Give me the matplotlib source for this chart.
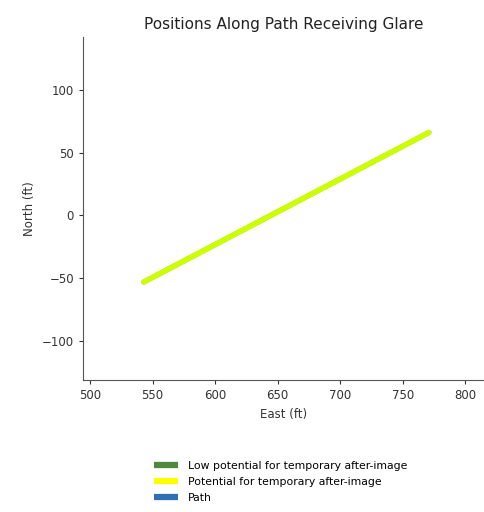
import matplotlib
matplotlib.use("Agg")
import matplotlib.pyplot as plt
from matplotlib.lines import Line2D

path_east = [543, 771]
path_north = [-53, 66]
glare_east = [543, 771]
glare_north = [-53, 66]

legend_labels = ["Low potential for temporary after-image",
                 "Potential for temporary after-image",
                 "Path"]
legend_colors = ["#4f8a3c", "#ffff00", "#2f6db5"]

fig = plt.figure(figsize=(4.84, 5.12), dpi=100)
ax = fig.add_axes([0.1715, 0.2578, 0.8285, 0.67])

ax.plot(path_east, path_north, color="#2f6db5", lw=3.5, solid_capstyle="round")
ax.plot(glare_east, glare_north, color="#ccff00", lw=4, solid_capstyle="round")

ax.set_xlim(494.4, 815)
ax.set_ylim(-131, 142)
ax.set_xticks([500, 550, 600, 650, 700, 750, 800])
ax.set_yticks([-100, -50, 0, 50, 100])
ax.spines["top"].set_visible(False)
ax.spines["right"].set_visible(False)
for s in ("left", "bottom"):
    ax.spines[s].set_color("#555555")
    ax.spines[s].set_linewidth(0.8)
ax.tick_params(labelsize=8.5, colors="#333333", length=3)
ax.set_xlabel("East (ft)", fontsize=8.5, color="#333333")
ax.set_ylabel("North (ft)", fontsize=8.5, color="#333333")
ax.set_title("Positions Along Path Receiving Glare", fontsize=11, color="#222222", pad=6)

handles = [Line2D([0], [0], color=c, lw=4.5, solid_capstyle="butt") for c in legend_colors]
fig.legend(handles, legend_labels, loc="upper left", bbox_to_anchor=(0.31, 0.108),
           frameon=False, fontsize=7.8, handlelength=2.2, handletextpad=0.9,
           labelspacing=0.55, borderaxespad=0)

fig.savefig("out.png", dpi=100)
